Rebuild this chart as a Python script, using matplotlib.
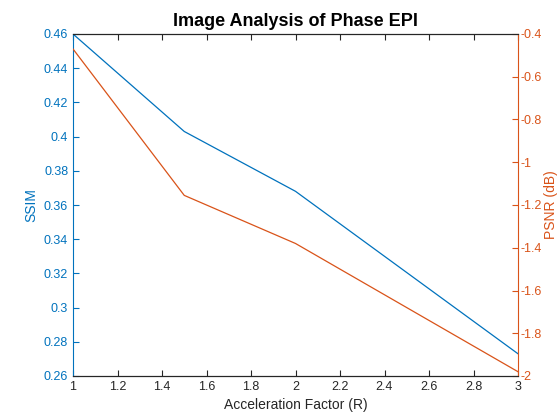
import matplotlib.pyplot as plt

plt.rcParams['font.family'] = ['Liberation Sans', 'DejaVu Sans']

accel = [1, 1.5, 2, 3]
ssim = [0.460, 0.403, 0.368, 0.273]
psnr = [-0.47, -1.155, -1.38, -1.98]

blue = '#0072BD'
orange = '#D95319'

fig = plt.figure(figsize=(5.6, 4.2), dpi=100)
ax1 = fig.add_axes([73/560, 44/420, 445/560, 342/420])
ax1.plot(accel, ssim, color=blue, lw=0.9)
ax1.set_xlim(1, 3)
ax1.set_ylim(0.26, 0.46)
ax1.set_xticks([1, 1.2, 1.4, 1.6, 1.8, 2, 2.2, 2.4, 2.6, 2.8, 3])
ax1.set_xticklabels(['1', '1.2', '1.4', '1.6', '1.8', '2', '2.2', '2.4', '2.6', '2.8', '3'])
ax1.set_yticks([0.26, 0.28, 0.3, 0.32, 0.34, 0.36, 0.38, 0.4, 0.42, 0.44, 0.46])
ax1.set_yticklabels(['0.26', '0.28', '0.3', '0.32', '0.34', '0.36', '0.38', '0.4', '0.42', '0.44', '0.46'])
ax1.set_xlabel('Acceleration Factor (R)', fontsize=10, color='#262626')
ax1.set_ylabel('SSIM', fontsize=10, color=blue)
ax1.tick_params(axis='y', colors=blue, labelsize=9, direction='in', length=4)
ax1.tick_params(axis='x', colors='#262626', labelsize=9, direction='in', length=4, top=True)
ax1.spines['left'].set_color(blue)
ax1.spines['right'].set_visible(False)

ax2 = ax1.twinx()
ax2.plot(accel, psnr, color=orange, lw=0.9)
ax2.set_ylim(-2, -0.4)
ax2.set_yticks([-2, -1.8, -1.6, -1.4, -1.2, -1, -0.8, -0.6, -0.4])
ax2.set_yticklabels(['-2', '-1.8', '-1.6', '-1.4', '-1.2', '-1', '-0.8', '-0.6', '-0.4'])
ax2.set_ylabel('PSNR (dB)', fontsize=10, color=orange, labelpad=1)
ax2.tick_params(axis='y', colors=orange, labelsize=9, direction='in', length=4, pad=2)
ax2.spines['right'].set_color(orange)
ax2.spines['left'].set_visible(False)
for s in ['top', 'bottom']:
    ax2.spines[s].set_color('#262626')

ax1.set_title('Image Analysis of Phase EPI', fontsize=13, fontweight='bold')
fig.savefig('out.png', dpi=100)
